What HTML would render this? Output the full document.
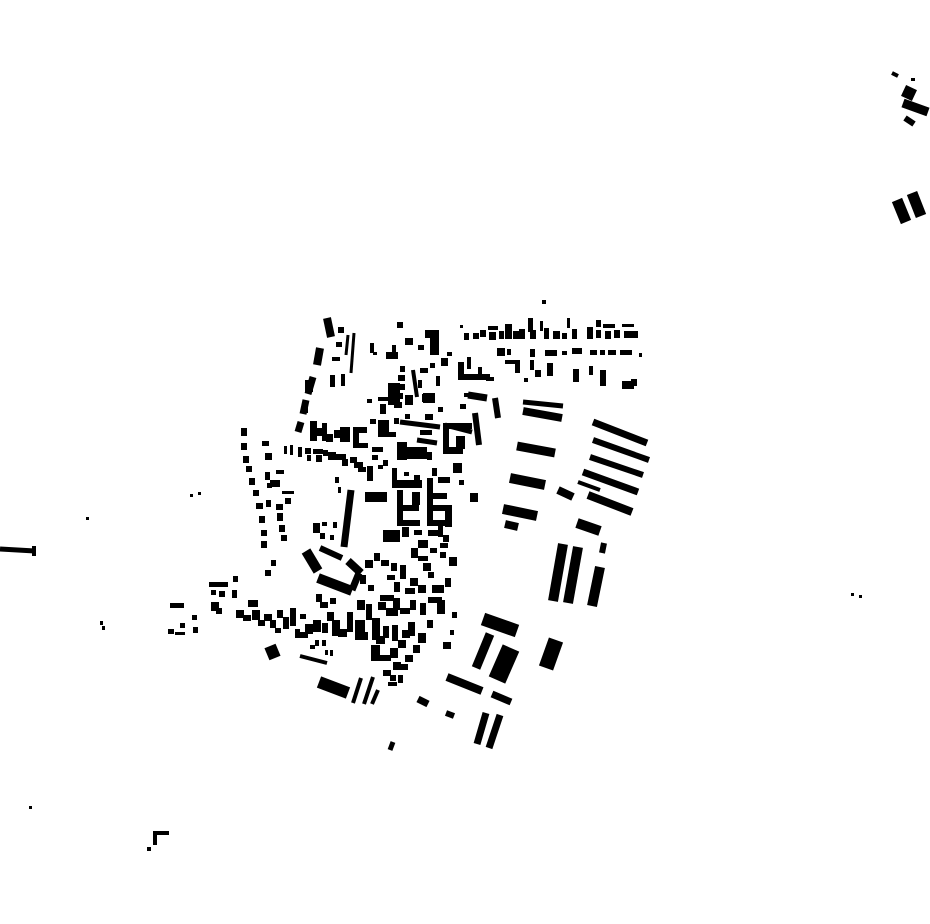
<!DOCTYPE html>
<html><head><meta charset="utf-8"><style>html,body{margin:0;padding:0;background:#fff}svg{display:block}</style></head>
<body>
<svg width="930" height="924" viewBox="0 0 930 924" xmlns="http://www.w3.org/2000/svg">
<g stroke="#000" fill="none" stroke-linecap="butt">
<!-- east bars -->
<path d="M593 422L647 443" stroke-width="7"/>
<path d="M593 440L649 460" stroke-width="6"/>
<path d="M590 457L643 475" stroke-width="6"/>
<path d="M583 472L638 492" stroke-width="7"/>
<path d="M588 495L632 512" stroke-width="8"/>
<path d="M578 482L600 490" stroke-width="4"/>
<path d="M558 490L573 497" stroke-width="8"/>
<path d="M523 402L563 406" stroke-width="5"/>
<path d="M523 411L562 418" stroke-width="8"/>
<path d="M517 446L555 453" stroke-width="9"/>
<path d="M510 478L545 485" stroke-width="10"/>
<path d="M503 509L537 516" stroke-width="10"/>
<path d="M505 524L518 527" stroke-width="8"/>
<path d="M577 523L600 531" stroke-width="10"/>
<path d="M604 543L602 553" stroke-width="6"/>
<path d="M563 544L553 601" stroke-width="10"/>
<path d="M578 547L568 603" stroke-width="10"/>
<path d="M600 567L592 606" stroke-width="10"/>
<path d="M556 640L546 668" stroke-width="15"/>
<path d="M483 619L517 631" stroke-width="13"/>
<path d="M490 634L476 668" stroke-width="9"/>
<path d="M511 648L497 680" stroke-width="18"/>
<path d="M447 677L482 691" stroke-width="8"/>
<path d="M492 694L511 702" stroke-width="7"/>
<path d="M486 713L477 744" stroke-width="7"/>
<path d="M500 715L489 748" stroke-width="7"/>
<path d="M418 699L428 704" stroke-width="7"/>
<path d="M446 713L454 716" stroke-width="6"/>
<path d="M393 742L390 750" stroke-width="5"/>
<path d="M319 682L348 693" stroke-width="12"/>
<path d="M300 656L327 663" stroke-width="4"/>
<path d="M361 678L353 703" stroke-width="4"/>
<path d="M373 677L364 704" stroke-width="4"/>
<path d="M378 690L372 704" stroke-width="4"/>
<path d="M270 646L275 658" stroke-width="12"/>
<!-- ring -->
<path d="M306 551L318 571" stroke-width="10"/>
<path d="M320 548L342 558" stroke-width="6"/>
<path d="M318 578L352 591" stroke-width="10"/>
<path d="M348 561L361 573" stroke-width="8"/>
<path d="M359 573L352 590" stroke-width="7"/>
<!-- west column -->
<path d="M327 318L331 337" stroke-width="8"/>
<path d="M320 348L317 365" stroke-width="8"/>
<path d="M313 377L308 394" stroke-width="7"/>
<path d="M306 400L303 414" stroke-width="7"/>
<path d="M301 422L298 432" stroke-width="7"/>
<path d="M354 333L351 373" stroke-width="3"/>
<path d="M348 335L346 355" stroke-width="3"/>
<path d="M351 490L344 547" stroke-width="7"/>
<path d="M365 497L387 497" stroke-width="10"/>
<path d="M413 370L417 397" stroke-width="4"/>
<path d="M475 413L479 445" stroke-width="6"/>
<path d="M495 398L498 418" stroke-width="6"/>
<path d="M468 395L487 398" stroke-width="7"/>
<path d="M400 422L440 427" stroke-width="5"/>
<path d="M417 440L437 443" stroke-width="5"/>
<path d="M445 425L472 432" stroke-width="5"/>
<!-- outliers -->
<path d="M892 73L898 76" stroke-width="4"/>
<path d="M903 103L928 112" stroke-width="9"/>
<path d="M905 118L914 124" stroke-width="6"/>
<path d="M897 200L906 222" stroke-width="11"/>
<path d="M912 193L921 216" stroke-width="11"/>
<path d="M0 549L35 551" stroke-width="5"/>
<path d="M34 546L34 556" stroke-width="4"/>
<path d="M153 833L169 833" stroke-width="4"/>
<path d="M155 833L155 845" stroke-width="4"/>
<path d="M476 713L478 716" stroke-width="0"/>
</g>
<g fill="#000">
<rect x="903" y="87" width="12" height="12" transform="rotate(25 909 93)"/>
<rect x="911" y="78" width="4" height="3"/>
<rect x="147" y="847" width="4" height="4"/>
<rect x="29" y="806" width="3" height="3"/>
<rect x="86" y="517" width="3" height="3"/>
<rect x="190" y="494" width="3" height="3"/><rect x="198" y="492" width="3" height="3"/>
<rect x="100" y="621" width="3" height="4"/><rect x="102" y="626" width="3" height="4"/>
<rect x="851" y="593" width="3" height="3"/><rect x="859" y="595" width="3" height="3"/>
<rect x="542" y="300" width="4" height="4"/>
<!-- north strip -->
<rect x="460" y="325" width="3" height="3"/>
<rect x="464" y="333" width="5" height="7"/><rect x="473" y="333" width="6" height="6"/><rect x="480" y="330" width="6" height="7"/>
<rect x="488" y="326" width="10" height="4"/><rect x="489" y="332" width="7" height="8"/><rect x="499" y="331" width="5" height="8"/>
<rect x="505" y="324" width="7" height="15"/><rect x="513" y="331" width="6" height="8"/><rect x="519" y="329" width="6" height="10"/>
<rect x="528" y="318" width="5" height="14"/><rect x="530" y="330" width="6" height="9"/><rect x="540" y="321" width="3" height="10"/>
<rect x="544" y="328" width="5" height="11"/><rect x="553" y="331" width="7" height="8"/><rect x="562" y="333" width="5" height="6"/>
<rect x="567" y="318" width="3" height="10"/><rect x="572" y="329" width="5" height="10"/><rect x="587" y="327" width="6" height="12"/>
<rect x="596" y="320" width="5" height="7"/><rect x="596" y="330" width="5" height="8"/><rect x="603" y="324" width="12" height="4"/>
<rect x="605" y="331" width="6" height="8"/><rect x="614" y="330" width="6" height="8"/><rect x="622" y="324" width="12" height="3"/>
<rect x="624" y="331" width="14" height="7"/>
<rect x="497" y="348" width="8" height="8"/><rect x="507" y="349" width="4" height="6"/><rect x="530" y="349" width="5" height="8"/>
<rect x="545" y="350" width="12" height="6"/><rect x="562" y="351" width="5" height="4"/><rect x="572" y="348" width="10" height="6"/>
<rect x="590" y="350" width="7" height="5"/><rect x="600" y="350" width="5" height="5"/><rect x="608" y="350" width="8" height="5"/>
<rect x="620" y="350" width="12" height="5"/><rect x="639" y="353" width="3" height="4"/>
<rect x="505" y="360" width="12" height="4"/><rect x="515" y="360" width="5" height="13"/><rect x="530" y="360" width="4" height="10"/>
<rect x="535" y="370" width="6" height="7"/><rect x="547" y="363" width="6" height="13"/><rect x="573" y="369" width="6" height="13"/>
<rect x="589" y="366" width="4" height="9"/><rect x="600" y="370" width="6" height="16"/><rect x="622" y="381" width="12" height="8"/>
<rect x="631" y="379" width="6" height="7"/><rect x="524" y="378" width="4" height="4"/>
<rect x="458" y="362" width="6" height="18"/><rect x="458" y="374" width="32" height="6"/><rect x="467" y="357" width="4" height="12"/>
<rect x="478" y="367" width="4" height="10"/><rect x="486" y="377" width="8" height="4"/>
<!-- north-central -->
<rect x="338" y="327" width="6" height="6"/><rect x="336" y="342" width="6" height="5"/><rect x="332" y="357" width="8" height="4"/>
<rect x="330" y="375" width="5" height="12"/><rect x="341" y="374" width="4" height="12"/>
<rect x="370" y="343" width="4" height="10"/><rect x="373" y="352" width="4" height="3"/><rect x="397" y="322" width="6" height="6"/>
<rect x="405" y="338" width="8" height="7"/><rect x="425" y="330" width="14" height="8"/><rect x="430" y="333" width="9" height="22"/>
<rect x="418" y="345" width="6" height="5"/><rect x="386" y="352" width="12" height="7"/><rect x="392" y="345" width="4" height="8"/>
<rect x="400" y="366" width="5" height="6"/><rect x="398" y="375" width="7" height="6"/><rect x="397" y="384" width="8" height="6"/>
<rect x="395" y="393" width="8" height="6"/><rect x="394" y="402" width="8" height="6"/><rect x="420" y="368" width="8" height="5"/>
<rect x="418" y="380" width="4" height="8"/><rect x="422" y="394" width="10" height="8"/><rect x="436" y="376" width="4" height="10"/>
<rect x="441" y="358" width="7" height="8"/><rect x="447" y="352" width="5" height="4"/><rect x="430" y="363" width="5" height="5"/>
<rect x="367" y="399" width="5" height="4"/><rect x="378" y="397" width="10" height="4"/><rect x="380" y="404" width="6" height="10"/>
<rect x="388" y="383" width="12" height="22"/><rect x="405" y="395" width="8" height="10"/><rect x="423" y="393" width="12" height="10"/>
<rect x="464" y="393" width="6" height="4"/><rect x="438" y="407" width="5" height="5"/><rect x="460" y="404" width="6" height="5"/>
<!-- central dense -->
<rect x="305" y="380" width="8" height="12"/><rect x="302" y="402" width="6" height="11"/>
<rect x="310" y="421" width="7" height="20"/><rect x="316" y="428" width="6" height="8"/><rect x="322" y="423" width="5" height="18"/>
<rect x="326" y="434" width="7" height="8"/><rect x="334" y="430" width="6" height="8"/><rect x="340" y="427" width="10" height="15"/>
<rect x="353" y="427" width="14" height="6"/><rect x="353" y="427" width="6" height="21"/><rect x="359" y="443" width="9" height="5"/>
<rect x="370" y="419" width="6" height="5"/><rect x="378" y="420" width="11" height="17"/><rect x="388" y="432" width="8" height="5"/>
<rect x="394" y="418" width="5" height="6"/><rect x="405" y="414" width="5" height="5"/><rect x="425" y="414" width="8" height="6"/>
<rect x="443" y="423" width="29" height="6"/><rect x="443" y="423" width="6" height="28"/><rect x="443" y="447" width="20" height="7"/>
<rect x="456" y="436" width="9" height="13"/><rect x="420" y="430" width="12" height="5"/>
<rect x="397" y="442" width="10" height="18"/><rect x="405" y="447" width="22" height="12"/><rect x="427" y="452" width="5" height="8"/>
<rect x="372" y="447" width="11" height="5"/>
<rect x="284" y="446" width="3" height="8"/><rect x="290" y="445" width="3" height="10"/><rect x="298" y="447" width="4" height="10"/>
<rect x="305" y="448" width="6" height="6"/><rect x="307" y="455" width="4" height="6"/><rect x="313" y="449" width="10" height="5"/>
<rect x="316" y="455" width="6" height="7"/><rect x="323" y="450" width="5" height="6"/><rect x="328" y="452" width="8" height="8"/>
<rect x="336" y="454" width="10" height="6"/><rect x="342" y="459" width="6" height="7"/><rect x="350" y="457" width="7" height="6"/>
<rect x="354" y="462" width="9" height="6"/><rect x="358" y="467" width="8" height="5"/><rect x="367" y="466" width="6" height="15"/>
<rect x="378" y="465" width="5" height="4"/><rect x="335" y="477" width="4" height="6"/><rect x="338" y="487" width="3" height="6"/>
<rect x="372" y="455" width="6" height="5"/><rect x="383" y="460" width="5" height="6"/>
<rect x="392" y="468" width="5" height="17"/><rect x="392" y="480" width="30" height="8"/><rect x="404" y="472" width="5" height="4"/>
<rect x="414" y="475" width="6" height="8"/><rect x="432" y="468" width="5" height="8"/><rect x="438" y="477" width="12" height="6"/>
<rect x="397" y="490" width="6" height="35"/><rect x="397" y="505" width="22" height="6"/><rect x="397" y="520" width="23" height="6"/>
<rect x="412" y="492" width="8" height="13"/><rect x="427" y="478" width="6" height="48"/><rect x="427" y="493" width="20" height="6"/>
<rect x="427" y="505" width="24" height="6"/><rect x="445" y="505" width="7" height="22"/><rect x="427" y="520" width="24" height="6"/>
<rect x="453" y="463" width="9" height="10"/><rect x="470" y="493" width="8" height="9"/><rect x="459" y="480" width="5" height="5"/>
<rect x="383" y="530" width="17" height="12"/><rect x="402" y="527" width="7" height="10"/><rect x="414" y="530" width="8" height="5"/>
<rect x="428" y="530" width="10" height="6"/><rect x="438" y="525" width="5" height="12"/>
<rect x="313" y="523" width="7" height="10"/><rect x="320" y="533" width="5" height="6"/><rect x="330" y="535" width="4" height="5"/>
<rect x="333" y="522" width="4" height="6"/><rect x="322" y="522" width="5" height="4"/>
<!-- left dotted columns -->
<rect x="241" y="428" width="6" height="8"/><rect x="241" y="443" width="6" height="7"/><rect x="243" y="456" width="6" height="7"/>
<rect x="246" y="466" width="6" height="6"/><rect x="249" y="478" width="6" height="7"/><rect x="253" y="490" width="6" height="6"/>
<rect x="256" y="503" width="7" height="6"/><rect x="259" y="516" width="6" height="7"/><rect x="261" y="530" width="6" height="6"/>
<rect x="261" y="541" width="6" height="7"/><rect x="262" y="441" width="7" height="5"/><rect x="265" y="453" width="7" height="7"/>
<rect x="265" y="472" width="5" height="8"/><rect x="267" y="483" width="5" height="5"/><rect x="266" y="500" width="5" height="7"/>
<rect x="270" y="480" width="10" height="7"/><rect x="276" y="470" width="8" height="4"/><rect x="282" y="491" width="12" height="3"/>
<rect x="276" y="504" width="7" height="6"/><rect x="277" y="513" width="6" height="8"/><rect x="279" y="525" width="6" height="7"/>
<rect x="281" y="535" width="6" height="6"/><rect x="285" y="498" width="6" height="6"/>
<rect x="271" y="560" width="5" height="6"/><rect x="265" y="570" width="6" height="6"/>
<!-- south-west cluster -->
<rect x="209" y="582" width="19" height="5"/><rect x="211" y="590" width="5" height="5"/><rect x="219" y="591" width="6" height="6"/>
<rect x="233" y="576" width="5" height="6"/><rect x="232" y="590" width="5" height="8"/><rect x="211" y="602" width="8" height="9"/>
<rect x="216" y="608" width="6" height="6"/><rect x="170" y="603" width="14" height="5"/><rect x="192" y="615" width="5" height="5"/>
<rect x="180" y="623" width="5" height="5"/><rect x="168" y="629" width="6" height="5"/><rect x="175" y="632" width="10" height="3"/>
<rect x="193" y="627" width="5" height="6"/><rect x="236" y="610" width="8" height="8"/><rect x="243" y="615" width="8" height="6"/>
<rect x="248" y="600" width="10" height="7"/><rect x="252" y="610" width="8" height="10"/><rect x="258" y="620" width="7" height="6"/>
<rect x="264" y="614" width="8" height="7"/><rect x="270" y="620" width="6" height="8"/><rect x="277" y="610" width="6" height="8"/>
<rect x="283" y="617" width="6" height="12"/><rect x="290" y="608" width="6" height="18"/><rect x="275" y="628" width="6" height="5"/>
<rect x="295" y="629" width="5" height="9"/><rect x="300" y="632" width="8" height="6"/><rect x="305" y="624" width="8" height="10"/>
<rect x="313" y="620" width="8" height="12"/><rect x="322" y="623" width="6" height="10"/><rect x="300" y="614" width="6" height="5"/>
<rect x="316" y="594" width="6" height="8"/><rect x="320" y="602" width="8" height="6"/><rect x="330" y="598" width="6" height="6"/>
<rect x="327" y="612" width="7" height="9"/><rect x="332" y="620" width="8" height="16"/><rect x="338" y="629" width="9" height="8"/>
<rect x="347" y="612" width="6" height="20"/><rect x="355" y="620" width="10" height="20"/><rect x="357" y="600" width="8" height="10"/>
<rect x="366" y="604" width="6" height="16"/><rect x="360" y="632" width="8" height="8"/><rect x="372" y="618" width="8" height="22"/>
<rect x="376" y="636" width="9" height="8"/><rect x="371" y="645" width="9" height="16"/><rect x="375" y="655" width="16" height="6"/>
<rect x="383" y="626" width="6" height="12"/><rect x="392" y="625" width="6" height="16"/><rect x="390" y="648" width="8" height="10"/>
<rect x="398" y="640" width="8" height="8"/><rect x="402" y="630" width="8" height="8"/><rect x="408" y="622" width="7" height="14"/>
<rect x="393" y="662" width="8" height="8"/><rect x="383" y="670" width="8" height="6"/><rect x="390" y="675" width="6" height="6"/>
<rect x="398" y="675" width="5" height="8"/><rect x="388" y="682" width="9" height="4"/>
<rect x="360" y="575" width="6" height="9"/><rect x="368" y="585" width="6" height="6"/><rect x="365" y="560" width="8" height="8"/>
<rect x="374" y="553" width="6" height="8"/><rect x="381" y="560" width="8" height="6"/><rect x="391" y="563" width="6" height="8"/>
<rect x="400" y="565" width="6" height="14"/><rect x="387" y="575" width="8" height="5"/><rect x="394" y="582" width="6" height="10"/>
<rect x="380" y="595" width="14" height="6"/><rect x="393" y="598" width="7" height="12"/><rect x="378" y="602" width="8" height="8"/>
<rect x="386" y="608" width="12" height="8"/><rect x="400" y="608" width="10" height="6"/><rect x="410" y="600" width="6" height="10"/>
<rect x="410" y="578" width="8" height="8"/><rect x="405" y="588" width="10" height="6"/><rect x="418" y="585" width="8" height="8"/>
<rect x="411" y="548" width="7" height="10"/><rect x="418" y="540" width="10" height="8"/><rect x="418" y="556" width="10" height="5"/>
<rect x="423" y="563" width="8" height="8"/><rect x="428" y="572" width="6" height="6"/><rect x="420" y="603" width="6" height="12"/>
<rect x="428" y="597" width="14" height="6"/><rect x="432" y="585" width="12" height="8"/><rect x="437" y="600" width="8" height="14"/>
<rect x="445" y="578" width="6" height="9"/><rect x="449" y="557" width="8" height="9"/><rect x="440" y="552" width="6" height="6"/>
<rect x="430" y="548" width="7" height="5"/><rect x="443" y="535" width="6" height="7"/><rect x="440" y="543" width="8" height="5"/>
<rect x="452" y="612" width="5" height="6"/><rect x="450" y="630" width="4" height="5"/><rect x="443" y="642" width="8" height="7"/>
<rect x="427" y="620" width="6" height="8"/><rect x="418" y="633" width="8" height="10"/><rect x="413" y="645" width="7" height="8"/>
<rect x="405" y="655" width="8" height="7"/><rect x="400" y="664" width="8" height="6"/>
<rect x="315" y="640" width="4" height="6"/><rect x="322" y="640" width="4" height="6"/><rect x="325" y="650" width="3" height="5"/>
<rect x="330" y="650" width="3" height="6"/><rect x="310" y="645" width="5" height="4"/>
</g>
</svg>
</body></html>
